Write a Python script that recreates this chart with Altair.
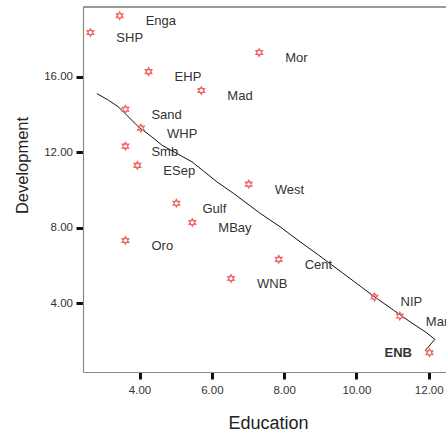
import altair as alt
import pandas as pd

# Province scores
provinces = ["SHP", "Enga", "EHP", "Mad", "Mor", "Sand", "WHP", "Smb", "ESep",
             "Gulf", "MBay", "Oro", "West", "Cent", "WNB", "NIP", "Manus", "ENB"]
education = [2.64, 3.45, 4.25, 5.71, 7.31, 3.61, 4.04, 3.61, 3.94,
             5.02, 5.46, 3.61, 7.02, 7.85, 6.53, 10.50, 11.20, 12.02]
development = [18.33, 19.22, 16.26, 15.26, 17.27, 14.27, 13.27, 12.32, 11.30,
               9.30, 8.28, 7.33, 10.31, 6.33, 5.32, 4.34, 3.33, 1.39]

# Smoothed fit line through the cloud
fit_x = [2.82, 3.14, 3.42, 3.65, 3.97, 4.34, 4.62, 5.03, 5.45, 5.77, 6.14, 6.60,
         6.97, 7.34, 7.89, 8.44, 8.95, 9.32, 9.82, 10.19, 10.56, 11.02, 11.48,
         11.90, 12.17, 11.90]
fit_y = [15.10, 14.75, 14.39, 13.95, 13.34, 12.81, 12.37, 11.93, 11.49, 11.00,
         10.43, 9.82, 9.29, 8.76, 8.05, 7.26, 6.56, 6.03, 5.32, 4.79, 4.27, 3.65,
         3.03, 2.50, 2.10, 1.50]

x_ticks = [4, 6, 8, 10, 12]
y_ticks = [4, 8, 12, 16]

pts = pd.DataFrame({"prov": provinces, "edu": education, "dev": development})
fit = pd.DataFrame({"edu": fit_x, "dev": fit_y, "i": list(range(len(fit_x)))})

W, H = 363, 365
FONT = "Arial, Liberation Sans, sans-serif"

xs = alt.Scale(domain=[2.436, 12.477], nice=False, zero=False)
ys = alt.Scale(domain=[0.37, 19.68], nice=False, zero=False)

x_axis = alt.Axis(values=x_ticks, format=".2f", title="Education", grid=False,
                  domainColor="#8a8a8a", domainWidth=1.2,
                  tickColor="#111", tickWidth=3, tickSize=7,
                  labelFont=FONT, labelFontSize=11.5, labelColor="#333",
                  labelPadding=5, titleFont=FONT, titleFontSize=18,
                  titleFontWeight="normal", titleColor="#222",
                  titleX=185, titleY=56.5, titleBaseline="alphabetic")
y_axis = alt.Axis(values=y_ticks, format=".2f", title="Development", grid=False,
                  domainColor="#8a8a8a", domainWidth=1.2,
                  tickColor="#111", tickWidth=3, tickSize=7,
                  labelFont=FONT, labelFontSize=11.5, labelColor="#333",
                  labelPadding=3.5, titleFont=FONT, titleFontSize=16.5,
                  titleFontWeight="normal", titleColor="#222",
                  titleX=-56, titleY=158, titleAngle=-90,
                  titleAlign="center", titleBaseline="alphabetic")

star = "M0,-1L0.866,0.5L-0.866,0.5Z M0,1L0.866,-0.5L-0.866,-0.5Z"

base = alt.Chart(pts)

points = base.mark_point(shape=star, size=64, filled=False, stroke="#f06a6a",
                         strokeWidth=1.1, opacity=1).encode(
    x=alt.X("edu:Q", scale=xs, axis=x_axis),
    y=alt.Y("dev:Q", scale=ys, axis=y_axis),
)

labels = base.transform_filter(alt.datum.prov != "ENB").mark_text(
    align="left", baseline="middle", dx=26, dy=5.5, font=FONT, fontSize=13,
    color="#333").encode(x="edu:Q", y="dev:Q", text="prov:N")

enb = base.transform_filter(alt.datum.prov == "ENB").mark_text(
    align="right", baseline="middle", dx=-17.5, dy=0.5, font=FONT, fontSize=13,
    fontWeight="bold", color="#333").encode(x="edu:Q", y="dev:Q", text="prov:N")

line = alt.Chart(fit).mark_line(color="#111", strokeWidth=1).encode(
    x="edu:Q", y="dev:Q", order="i:Q")

top_border = alt.Chart(fit).mark_rule(color="#9a9a9a", strokeWidth=1.2).encode(
    x=alt.value(0), x2=alt.value(W), y=alt.value(0))

chart = alt.layer(line, points, labels, enb, top_border).properties(
    width=W, height=H,
    autosize=alt.AutoSizeParams(type="none"),
    padding={"left": 83, "top": 7, "right": 0, "bottom": 60},
    background="white",
).configure_view(stroke=None)

chart.save("out.html", embed_options={"renderer": "svg", "actions": False})
